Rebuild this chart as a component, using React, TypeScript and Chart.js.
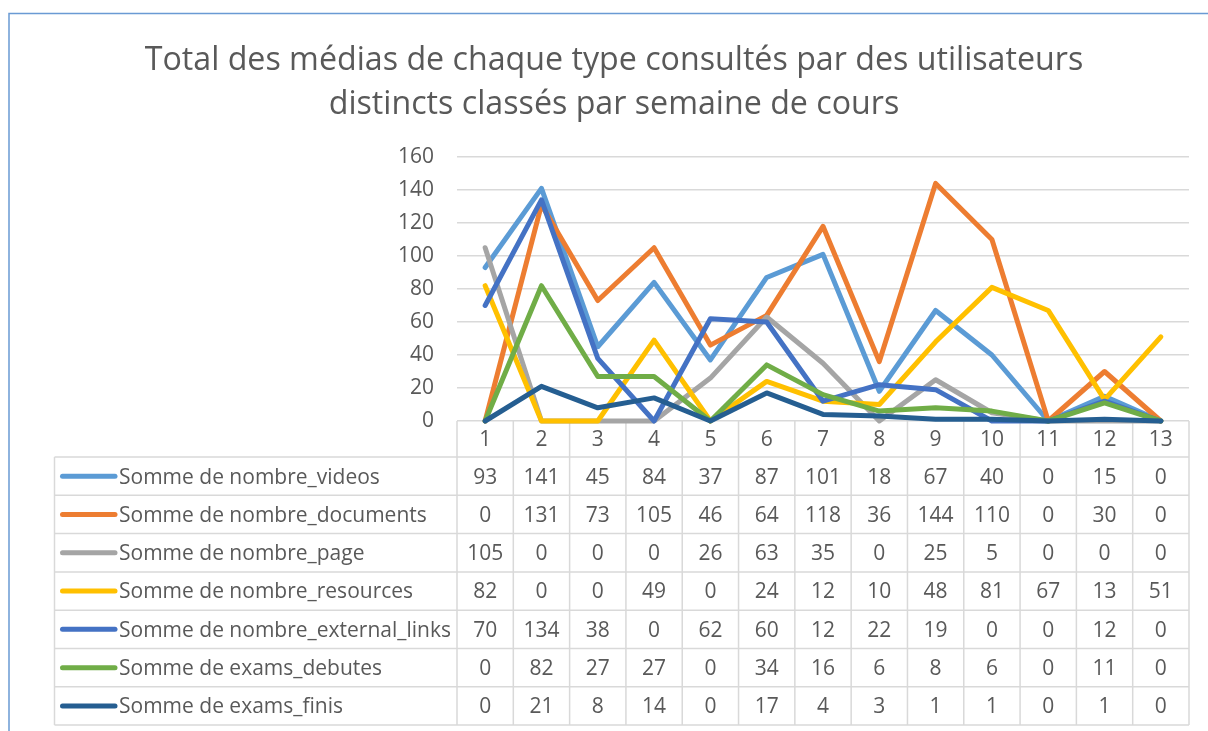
import React, { useEffect, useRef } from "react";
import { Chart, registerables } from "chart.js";

Chart.register(...registerables);

const titleLines = [
  "Total des médias de chaque type consultés par des utilisateurs",
  "distincts classés par semaine de cours",
];

const weeks = ["1", "2", "3", "4", "5", "6", "7", "8", "9", "10", "11", "12", "13"];

const seriesNames = [
  "Somme de nombre_videos",
  "Somme de nombre_documents",
  "Somme de nombre_page",
  "Somme de nombre_resources",
  "Somme de nombre_external_links",
  "Somme de exams_debutes",
  "Somme de exams_finis",
];

const videos = [93, 141, 45, 84, 37, 87, 101, 18, 67, 40, 0, 15, 0];
const documents = [0, 131, 73, 105, 46, 64, 118, 36, 144, 110, 0, 30, 0];
const pages = [105, 0, 0, 0, 26, 63, 35, 0, 25, 5, 0, 0, 0];
const resources = [82, 0, 0, 49, 0, 24, 12, 10, 48, 81, 67, 13, 51];
const externalLinks = [70, 134, 38, 0, 62, 60, 12, 22, 19, 0, 0, 12, 0];
const examsDebutes = [0, 82, 27, 27, 0, 34, 16, 6, 8, 6, 0, 11, 0];
const examsFinis = [0, 21, 8, 14, 0, 17, 4, 3, 1, 1, 0, 1, 0];

const seriesValues = [videos, documents, pages, resources, externalLinks, examsDebutes, examsFinis];

const seriesColors = ["#5B9BD5", "#ED7D31", "#A5A5A5", "#FFC000", "#4472C4", "#70AD47", "#255E91"];

const yTicks = [0, 20, 40, 60, 80, 100, 120, 140, 160];

const TEXT = "#595959";
const GRID = "#D9D9D9";
const FONT = "'Open Sans', 'DejaVu Sans', sans-serif";

const framePlugin = {
  id: "frame",
  beforeDraw(chart: any) {
    const ctx = chart.ctx;
    ctx.save();
    ctx.fillStyle = "#ffffff";
    ctx.fillRect(0, 0, chart.width, chart.height);
    ctx.strokeStyle = "#6A9AD4";
    ctx.lineWidth = 1.5;
    ctx.beginPath();
    ctx.moveTo(9, chart.height);
    ctx.lineTo(9, 13.5);
    ctx.lineTo(chart.width, 13.5);
    ctx.stroke();
    ctx.fillStyle = TEXT;
    ctx.font = `32.2px ${FONT}`;
    ctx.textAlign = "center";
    ctx.textBaseline = "alphabetic";
    ctx.fillText(titleLines[0], 614, 70);
    ctx.fillText(titleLines[1], 614, 114);
    ctx.restore();
  },
  beforeDatasetsDraw(chart: any) {
    const ctx = chart.ctx;
    const area = chart.chartArea;
    const xs = chart.scales.x;
    const n = weeks.length;
    const cw = (area.right - area.left) / n;
    const headTop = area.bottom;
    const headBot = 457;
    const rowH = 38.3;
    const tableLeft = 54.5;
    const rows = seriesNames.length;
    const bottom = headBot + rows * rowH;
    ctx.save();
    ctx.strokeStyle = GRID;
    ctx.lineWidth = 1.5;
    ctx.beginPath();
    for (let i = 0; i <= n; i++) {
      const x = area.left + i * cw;
      ctx.moveTo(x, headTop);
      ctx.lineTo(x, bottom);
    }
    ctx.moveTo(tableLeft, headBot);
    ctx.lineTo(tableLeft, bottom);
    for (let r = 0; r <= rows; r++) {
      const y = headBot + r * rowH;
      ctx.moveTo(tableLeft, y);
      ctx.lineTo(area.right, y);
    }
    ctx.stroke();

    ctx.fillStyle = TEXT;
    ctx.font = `21px ${FONT}`;
    ctx.textBaseline = "alphabetic";
    ctx.textAlign = "center";
    for (let i = 0; i < n; i++) {
      ctx.fillText(weeks[i], xs.getPixelForValue(i), headTop + 25);
    }
    for (let r = 0; r < rows; r++) {
      const top = headBot + r * rowH;
      const mid = top + rowH / 2;
      ctx.strokeStyle = seriesColors[r];
      ctx.lineWidth = 5;
      ctx.lineCap = "round";
      ctx.beginPath();
      ctx.moveTo(62.5, mid);
      ctx.lineTo(115, mid);
      ctx.stroke();
      ctx.textAlign = "left";
      ctx.fillText(seriesNames[r], 119, top + 26.5);
      ctx.textAlign = "center";
      const vals = seriesValues[r];
      for (let i = 0; i < n; i++) {
        ctx.fillText(String(vals[i]), xs.getPixelForValue(i), top + 26.5);
      }
    }
    ctx.restore();
  },
};

export default function App() {
  const canvasRef = useRef<HTMLCanvasElement | null>(null);

  useEffect(() => {
    const canvas = canvasRef.current;
    if (!canvas) return;
    const chart = new Chart(canvas, {
      type: "line",
      data: {
        labels: weeks,
        datasets: seriesNames.map((name, i) => ({
          label: name,
          data: seriesValues[i],
          borderColor: seriesColors[i],
          backgroundColor: seriesColors[i],
          borderWidth: 5,
          pointRadius: 0,
          tension: 0,
          fill: false,
          clip: false as const,
          borderJoinStyle: "round" as const,
          borderCapStyle: "round" as const,
          order: seriesNames.length - 1 - i,
        })),
      },
      options: {
        responsive: false,
        animation: false,
        devicePixelRatio: 1,
        layout: { padding: { top: 157, bottom: 310, left: 0, right: 19 } },
        plugins: {
          legend: { display: false },
          title: { display: false },
          tooltip: { enabled: false },
        },
        scales: {
          x: {
            type: "category",
            display: false,
            offset: true,
          },
          y: {
            min: 0,
            max: 160,
            afterBuildTicks: (scale: any) => {
              scale.ticks = yTicks.map((v) => ({ value: v }));
            },
            afterFit: (scale: any) => {
              scale.width = 457;
            },
            border: { display: false },
            grid: { color: GRID, lineWidth: 1.5, drawTicks: false },
            ticks: {
              padding: 23,
              color: TEXT,
              font: { family: FONT, size: 21 },
            },
          },
        },
      },
      plugins: [framePlugin],
    });
    return () => chart.destroy();
  }, []);

  return (
    <div style={{ position: "fixed", left: 0, top: 0, width: 1208, height: 731, background: "#fff" }}>
      <canvas ref={canvasRef} width={1208} height={731} style={{ display: "block" }} />
    </div>
  );
}
